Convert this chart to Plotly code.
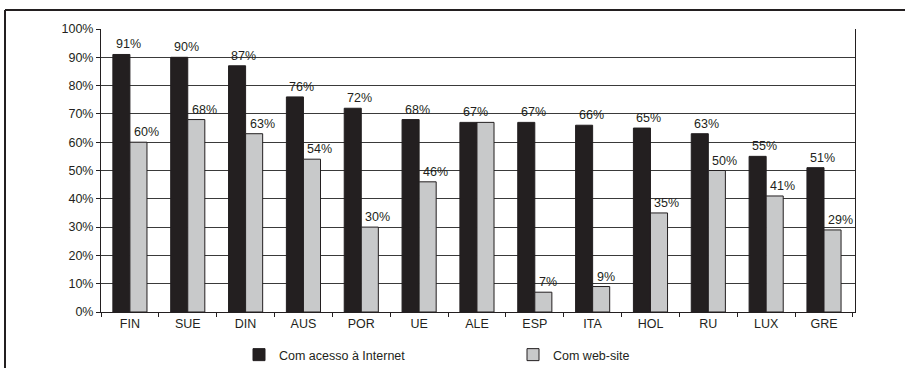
import plotly.graph_objects as go

categories = ["FIN", "SUE", "DIN", "AUS", "POR", "UE", "ALE", "ESP", "ITA", "HOL", "RU", "LUX", "GRE"]
internet = [91, 90, 87, 76, 72, 68, 67, 67, 66, 65, 63, 55, 51]
website = [60, 68, 63, 54, 30, 46, 67, 7, 9, 35, 50, 41, 29]
series_names = ["Com acesso à Internet", "Com web-site"]
y_ticks = list(range(0, 101, 10))
y_tick_labels = [f"{v}%" for v in y_ticks]

FONT = "Liberation Sans, Arial, sans-serif"
INK = "#231f20"
GREY = "#c8c9ca"
W, H = 905, 368
ML, MR, MT, MB = 101, 50, 29, 56
BARGAP = 0.41
pw, ph = W - ML - MR, H - MT - MB

def px_x(x):
    return (x - ML) / pw

def px_y(y):
    return (H - MB - y) / ph

# width in pixels of one bar (two bars per category group)
bar_px = pw / len(categories) * (1 - BARGAP) / 2

fig = go.Figure()
for vals, name, color in [(internet, series_names[0], INK), (website, series_names[1], GREY)]:
    fig.add_trace(go.Bar(
        x=categories, y=vals, name=name,
        marker=dict(color=color, line=dict(color=INK, width=1)),
        cliponaxis=False,
    ))

# value labels: in the original they start near the left edge of each bar
annotations = []
for cat, i_val, w_val in zip(categories, internet, website):
    annotations.append(dict(
        x=cat, y=i_val, xref="x", yref="y", text=f"{i_val}%", showarrow=False,
        xanchor="left", yanchor="bottom", xshift=-bar_px + 1, yshift=1,
        font=dict(family=FONT, size=12.5, color=INK),
    ))
    if w_val != i_val:  # coinciding values share one label in the original
        annotations.append(dict(
            x=cat, y=w_val, xref="x", yref="y", text=f"{w_val}%", showarrow=False,
            xanchor="left", yanchor="bottom", xshift=2, yshift=1,
            font=dict(family=FONT, size=12.5, color=INK),
        ))

fig.update_layout(
    width=W, height=H,
    margin=dict(l=ML, r=MR, t=MT, b=MB, autoexpand=False),
    paper_bgcolor="white", plot_bgcolor="white",
    barmode="group", bargap=BARGAP, bargroupgap=0,
    font=dict(family=FONT, size=12.5, color=INK),
    showlegend=True,
    legend=dict(
        orientation="h", xref="container", yref="container",
        x=239 / W, y=(H - 340) / H, xanchor="left", yanchor="top",
        entrywidth=229, entrywidthmode="pixels",
        font=dict(family=FONT, size=12.5, color=INK),
        bgcolor="rgba(0,0,0,0)",
    ),
    annotations=annotations,
)
fig.update_xaxes(
    type="category", showline=True, linecolor=INK, linewidth=1,
    ticks="outside", tickson="boundaries", ticklen=4, tickcolor=INK,
    showgrid=False, tickfont=dict(family=FONT, size=12.5, color=INK),
)
fig.update_yaxes(
    range=[0, 100], tickvals=y_ticks, ticktext=y_tick_labels,
    showline=True, linecolor=INK, linewidth=1, mirror=True,
    ticks="outside", ticklen=4, tickcolor=INK,
    showgrid=True, gridcolor="#3a3a3a", gridwidth=1, zeroline=False,
    tickfont=dict(family=FONT, size=12.5, color=INK),
)

# outer frame of the figure (only top and left edges visible in the original)
fig.add_shape(type="line", xref="paper", yref="paper",
              x0=px_x(5), x1=px_x(W + 50), y0=px_y(10), y1=px_y(10),
              line=dict(color=INK, width=2), layer="below")
fig.add_shape(type="line", xref="paper", yref="paper",
              x0=px_x(5), x1=px_x(5), y0=px_y(10), y1=px_y(H + 50),
              line=dict(color=INK, width=2), layer="below")

fig.write_html("out.html")
